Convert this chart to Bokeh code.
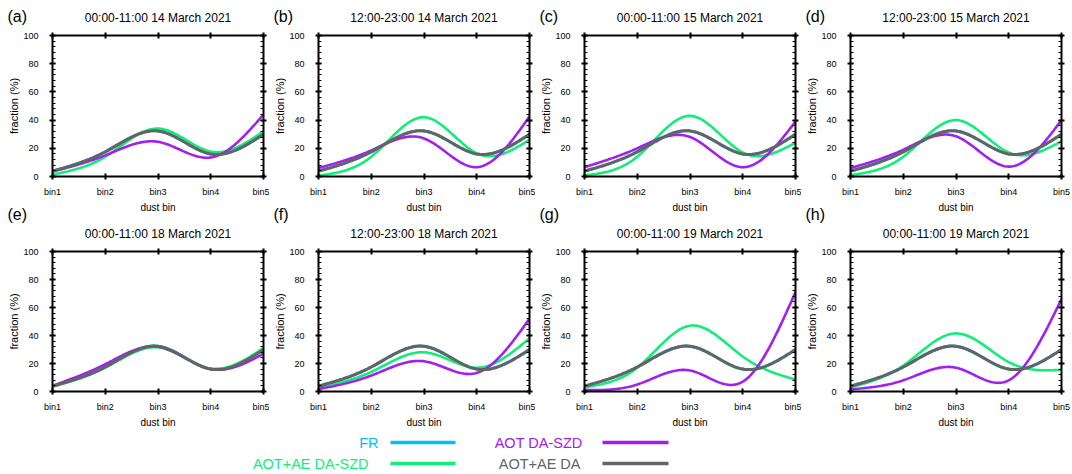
import numpy as np
from bokeh.plotting import figure
from bokeh.models import (Range1d, LinearAxis, FixedTicker, SingleIntervalTicker,
                          CustomJSTickFormatter)
from bokeh.layouts import column, row
from bokeh.embed import file_html
from bokeh.resources import INLINE
from bokeh.core.properties import value

# ---------------- data ----------------
bins = ["bin1", "bin2", "bin3", "bin4", "bin5"]
bin_pos = [1, 2, 3, 4, 5]
x_title = "dust bin"
y_title = "fraction (%)"
panel_tags = ["(a)", "(b)", "(c)", "(d)", "(e)", "(f)", "(g)", "(h)"]
panel_titles = [
    "00:00-11:00 14 March 2021", "12:00-23:00 14 March 2021",
    "00:00-11:00 15 March 2021", "12:00-23:00 15 March 2021",
    "00:00-11:00 18 March 2021", "12:00-23:00 18 March 2021",
    "00:00-11:00 19 March 2021", "00:00-11:00 19 March 2021",
]
series_names = ["FR", "AOT DA-SZD", "AOT+AE DA-SZD", "AOT+AE DA"]
series_colors = ["#00BFFF", "#A020F0", "#10EE78", "#646464"]

# FR (hidden beneath AOT+AE DA in every panel)
fr = [[3.8, 17.5, 32.3, 16.0, 30.0]] * 8
# AOT+AE DA (same in every panel)
aot_ae_da = [[3.8, 17.5, 32.3, 16.0, 30.0]] * 8
# AOT+AE DA-SZD
aot_ae_da_szd = [
    [1.4, 14.0, 34.0, 17.7, 32.0],
    [0.7, 14.0, 42.0, 16.5, 26.0],
    [0.8, 14.0, 43.0, 17.0, 24.0],
    [1.0, 14.0, 40.0, 17.0, 25.0],
    [3.5, 17.0, 31.5, 16.5, 31.0],
    [3.0, 14.0, 28.0, 17.0, 38.0],
    [3.0, 17.0, 47.0, 25.0, 8.5],
    [3.0, 18.5, 41.5, 21.0, 15.5],
]
# AOT DA-SZD
aot_da_szd = [
    [3.5, 15.0, 24.6, 13.5, 44.0],
    [6.0, 18.5, 27.0, 6.6, 42.6],
    [6.6, 20.0, 28.0, 6.6, 39.0],
    [6.0, 19.0, 28.5, 7.0, 40.0],
    [4.0, 19.5, 32.0, 16.0, 27.0],
    [1.7, 11.4, 21.6, 13.3, 52.0],
    [1.0, 5.0, 15.0, 7.0, 71.0],
    [1.5, 8.0, 17.0, 8.0, 66.0],
]

FONT = "Liberation Sans"
W = 1072

# layout constants (pixels)
FRAME_W = 211
LEFT_B = [52, 49, 49, 49]
RIGHT_B = [6, 6, 6, 11]
frame_left = []
_x = 0
for lb, rb in zip(LEFT_B, RIGHT_B):
    frame_left.append(_x + lb)
    _x += lb + FRAME_W + rb


def natural_spline(xk, yk, n=161):
    xk = np.asarray(xk, float)
    yk = np.asarray(yk, float)
    m = len(xk)
    h = np.diff(xk)
    A = np.zeros((m, m))
    r = np.zeros(m)
    A[0, 0] = 1.0
    A[-1, -1] = 1.0
    for i in range(1, m - 1):
        A[i, i - 1] = h[i - 1]
        A[i, i] = 2 * (h[i - 1] + h[i])
        A[i, i + 1] = h[i]
        r[i] = 6 * ((yk[i + 1] - yk[i]) / h[i] - (yk[i] - yk[i - 1]) / h[i - 1])
    M = np.linalg.solve(A, r)
    xs = np.linspace(xk[0], xk[-1], n)
    idx = np.clip(np.searchsorted(xk, xs) - 1, 0, m - 2)
    x0, x1 = xk[idx], xk[idx + 1]
    hh = x1 - x0
    a = (x1 - xs) / hh
    b = (xs - x0) / hh
    ys = (a * yk[idx] + b * yk[idx + 1]
          + ((a ** 3 - a) * M[idx] + (b ** 3 - b) * M[idx + 1]) * hh ** 2 / 6)
    return xs, ys


def style_axis(ax):
    ax.axis_line_width = 2
    ax.axis_line_color = "black"
    ax.major_tick_line_width = 2
    ax.minor_tick_line_width = 1
    ax.major_tick_in = 3
    ax.major_tick_out = 3
    ax.minor_tick_in = 3
    ax.minor_tick_out = 0
    ax.major_label_text_font = FONT
    ax.major_label_text_font_size = "9px"
    ax.major_label_text_color = "black"
    ax.axis_label_text_font = FONT
    ax.axis_label_text_font_size = "11px"
    ax.axis_label_text_font_style = "normal"
    ax.axis_label_text_color = "black"


def blank_axis(ax):
    ax.formatter = CustomJSTickFormatter(code="return ''")
    ax.major_label_text_font_size = "0px"
    ax.major_label_standoff = 0


def make_panel(k):
    r_i, c_i = divmod(k, 4)
    fh = 141 if r_i == 0 else 140
    p = figure(frame_width=FRAME_W, frame_height=fh,
               x_range=Range1d(1, 5), y_range=Range1d(0, 100),
               x_axis_type=None, y_axis_type=None,
               output_backend="svg", toolbar_location=None,
               min_border_left=LEFT_B[c_i], min_border_right=RIGHT_B[c_i],
               min_border_top=9 if r_i == 0 else 8,
               min_border_bottom=25,
               outline_line_color=None, background_fill_color="white",
               border_fill_color="white")
    p.xgrid.visible = False
    p.ygrid.visible = False

    xt = FixedTicker(ticks=bin_pos, minor_ticks=[])
    yt = SingleIntervalTicker(interval=20, num_minor_ticks=5)

    xb = LinearAxis(ticker=xt,
                    major_label_overrides={bp: b for bp, b in zip(bin_pos, bins)})
    style_axis(xb)
    xb.major_label_standoff = 7
    p.add_layout(xb, "below")

    xa = LinearAxis(ticker=xt)
    style_axis(xa)
    blank_axis(xa)
    p.add_layout(xa, "above")

    yl = LinearAxis(ticker=yt, axis_label=y_title)
    style_axis(yl)
    yl.major_label_standoff = 11
    yl.axis_label_standoff = 0
    p.add_layout(yl, "left")

    yr = LinearAxis(ticker=yt)
    style_axis(yr)
    blank_axis(yr)
    p.add_layout(yr, "right")

    series = [(fr[k], series_colors[0], 3.0),
              (aot_ae_da_szd[k], series_colors[2], 2.6),
              (aot_da_szd[k], series_colors[1], 2.6),
              (aot_ae_da[k], series_colors[3], 3.0)]
    for vals, col, lw in series:
        xs, ys = natural_spline(bin_pos, vals)
        p.line(xs, ys, line_color=col, line_width=lw)
    return p


def bare(fig):
    fig.xgrid.visible = False
    fig.ygrid.visible = False
    return fig


def make_strip(y0, y1, items):
    """items: list of (x, y, text, size, align) in page pixels"""
    s = bare(figure(width=W, height=y1 - y0, x_range=Range1d(0, W),
                    y_range=Range1d(y1, y0), x_axis_type=None, y_axis_type=None,
                    output_backend="svg", toolbar_location=None, min_border=0,
                    outline_line_color=None))
    groups = {}
    for it in items:
        groups.setdefault((it[3], it[4]), []).append(it)
    for (size, align), sel in groups.items():
        s.text(x=[it[0] for it in sel], y=[it[1] for it in sel],
               text=[it[2] for it in sel], text_align=align,
               text_baseline="middle", text_font=value(FONT),
               text_font_size=size, text_color="black")
    return s


panels = [make_panel(k) for k in range(8)]
centers = [fl + FRAME_W / 2 for fl in frame_left]

strip_top = make_strip(0, 26,
    [(frame_left[c] - 45, 16, panel_tags[c], "16px", "left") for c in range(4)] +
    [(centers[c], 17, panel_titles[c], "12px", "center") for c in range(4)])
strip_mid = make_strip(201, 243,
    [(centers[c], 207, x_title, "10px", "center") for c in range(4)] +
    [(frame_left[c] - 45, 214, panel_tags[4 + c], "16px", "left") for c in range(4)] +
    [(centers[c], 233, panel_titles[4 + c], "12px", "center") for c in range(4)])

# ---------------- bottom strip with legend ----------------
leg = make_strip(416, 474,
    [(centers[c], 422, x_title, "10px", "center") for c in range(4)])
leg_text_right = [378, 582, 368, 580]
leg_line_x0 = [390, 602, 390, 602]
leg_line_x1 = [455, 668, 455, 668]
leg_y = [442, 442, 463, 463]
leg.text(x=leg_text_right, y=leg_y, text=series_names,
         text_color=series_colors, text_align="right", text_baseline="middle",
         text_font=value(FONT), text_font_size="14.5px")
leg.segment(x0=leg_line_x0, y0=leg_y, x1=leg_line_x1, y1=leg_y,
            line_color=series_colors, line_width=3.5)

layout = column(strip_top, row(*panels[:4]), strip_mid, row(*panels[4:]), leg)

open("out.html", "w").write(file_html(layout, INLINE))
